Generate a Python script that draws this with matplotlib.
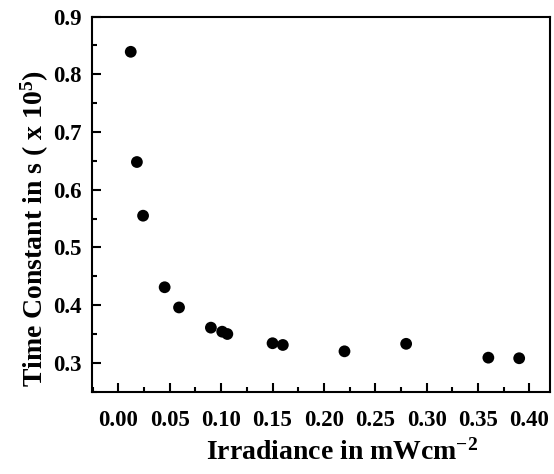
import matplotlib
matplotlib.use('Agg')
import matplotlib.pyplot as plt
from matplotlib.ticker import MultipleLocator, FormatStrFormatter

plt.rcParams['font.family'] = ['Liberation Serif', 'DejaVu Serif']
plt.rcParams['font.weight'] = 'bold'
plt.rcParams['mathtext.fontset'] = 'custom'
plt.rcParams['mathtext.rm'] = 'Liberation Serif:bold'
plt.rcParams['mathtext.default'] = 'rm'

# irradiance (mW/cm^2) vs time constant (x 10^5 s)
irradiance = [0.012, 0.018, 0.024, 0.045, 0.059, 0.090, 0.101, 0.106,
              0.150, 0.160, 0.220, 0.280, 0.360, 0.390]
time_const = [0.839, 0.648, 0.555, 0.431, 0.396, 0.361, 0.354, 0.350,
              0.334, 0.331, 0.320, 0.333, 0.309, 0.308]

fig = plt.figure(figsize=(5.54, 4.74), dpi=100)
ax = fig.add_axes([0.1655, 0.1736, 0.8273, 0.7914])

ax.scatter(irradiance, time_const, s=72, c='black', edgecolors='none', zorder=3)

ax.set_xlim(-0.026, 0.420)
ax.set_ylim(0.25, 0.9)
ax.xaxis.set_major_locator(MultipleLocator(0.05))
ax.xaxis.set_minor_locator(MultipleLocator(0.025))
ax.yaxis.set_major_locator(MultipleLocator(0.1))
ax.yaxis.set_minor_locator(MultipleLocator(0.05))
ax.xaxis.set_major_formatter(FormatStrFormatter('%.2f'))
ax.yaxis.set_major_formatter(FormatStrFormatter('%.1f'))

ax.tick_params(which='both', direction='in', width=1.5, top=False, right=False)
ax.tick_params(which='major', length=6.5, labelsize=16.5)
ax.tick_params(axis='x', which='major', pad=13.5)
ax.tick_params(axis='y', which='major', pad=7)
ax.tick_params(which='minor', length=3.5)
for sp in ax.spines.values():
    sp.set_linewidth(1.5)

ax.set_xlabel('Irradiance in mWcm$^{-2}$', fontsize=20, fontweight='bold', va='baseline')
ax.set_ylabel('Time Constant in s ( x 10$^{5}$)', fontsize=20, fontweight='bold')
ax.xaxis.set_label_coords(0.546, -0.182)
ax.yaxis.set_label_coords(-0.088, 0.436)

fig.savefig('out.png', dpi=100)
